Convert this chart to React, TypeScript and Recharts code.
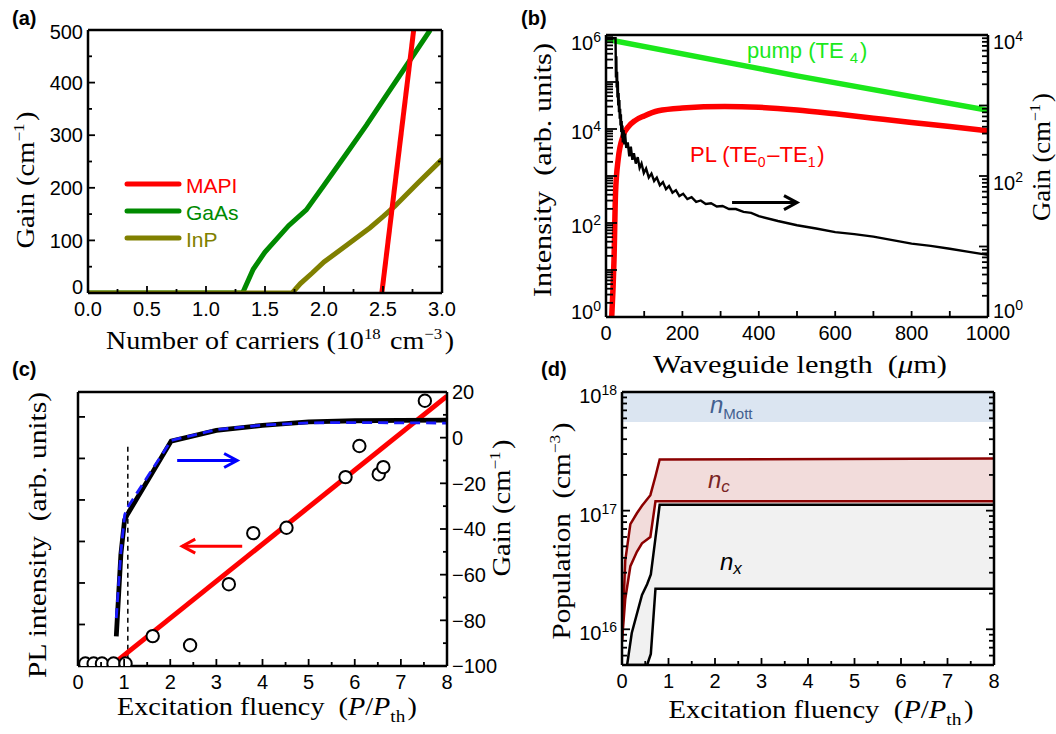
import React from "react";
import { ComposedChart, Line, Area, Scatter, XAxis, YAxis, ReferenceArea } from "recharts";

const SANS = "'Liberation Sans', Arial, Helvetica, sans-serif";
const SERIF = "'Liberation Serif', 'Times New Roman', serif";

// ---- (a) gain vs carrier density ----
const mapiN = [2.49, 2.76];
const mapiG = [0, 500];
const gaasN = [0, 1.31, 1.4, 1.5, 1.7, 1.85, 2.0, 2.2, 2.36, 2.5, 2.7, 2.9];
const gaasG = [0, 0, 45, 78, 128, 158, 205, 268, 319, 366, 433, 500];
const inpN = [0, 1.73, 1.8, 1.9, 2.0, 2.2, 2.39, 2.5, 2.6, 2.8, 3.0];
const inpG = [0, 0, 18, 38, 59, 92, 124, 145, 165, 210, 254];
const materials = [
  { name: "MAPI", color: "#ff0000" },
  { name: "GaAs", color: "#008a00" },
  { name: "InP", color: "#808000" },
];
const carrierTicks = [0, 0.5, 1, 1.5, 2, 2.5, 3];
const carrierMinor = [0.25, 0.75, 1.25, 1.75, 2.25, 2.75];
const gainTicksA = [0, 100, 200, 300, 400, 500];
const gainMinorA = [50, 150, 250, 350, 450];

// ---- (b) intensities and gain along the waveguide ----
const pumpL = [0, 500, 1000];
const pumpI = [8.1e5, 1.35e5, 2.5e4];
const plL = [15, 21, 25, 32, 45, 60, 76, 100, 137, 200, 311, 400, 500, 600, 700, 800, 900, 1000];
const plI = [1, 17, 450, 2300, 7200, 11500, 15100, 19000, 24500, 28000, 30000, 29000, 25500, 21000, 17000, 13800, 11300, 9100];
const gainL = [0, 25, 26, 27, 28, 29, 30, 31, 32, 33, 34, 35, 36, 37, 38, 39, 40, 41, 42, 43, 44, 46, 48, 50, 53, 57, 61, 65, 69, 73, 78, 83, 88, 93, 99, 105, 112, 119, 126, 133, 141, 149, 157, 165, 174, 183, 192, 202, 213, 224, 236, 248, 261, 275, 290, 305, 322, 340, 360, 380, 400, 450, 500, 550, 600, 650, 700, 750, 800, 850, 900, 950, 1000];
const gainB = [9000, 9000, 2500, 5000, 1800, 3000, 1300, 2200, 1000, 1500, 800, 1200, 650, 900, 520, 750, 420, 600, 350, 520, 300, 450, 280, 400, 250, 300, 190, 260, 170, 210, 150, 185, 130, 150, 110, 128, 95, 108, 85, 95, 74, 82, 65, 72, 58, 63, 52, 56, 47, 50, 43, 45, 40, 41, 37, 37.5, 34, 34, 31, 30, 27, 23, 20, 18, 16, 15, 13.8, 12.3, 11, 10.2, 9.3, 8.4, 7.6];
const arrowBL = [330, 500];
const arrowBG = [42, 42];
const lengthTicks = [0, 200, 400, 600, 800, 1000];
const lengthMinor = [100, 300, 500, 700, 900];

// ---- (c) PL intensity and gain vs excitation ----
const dotF = [0.16, 0.34, 0.52, 0.77, 1.03, 1.62, 2.43, 3.27, 3.8, 4.52, 5.8, 6.1, 6.52, 6.62, 7.52];
const dotI = [0.06, 0.06, 0.06, 0.06, 0.06, 0.72, 0.5, 1.97, 3.2, 3.33, 4.55, 5.3, 4.62, 4.79, 6.39];
const fitF = [0.82, 8];
const fitI = [0.1, 6.5];
const gainF = [0.83, 0.93, 1.01, 1.06, 2.02, 3, 4, 5, 6, 7, 8];
const gainCalc = [-87, -51, -36, -34, -1.5, 3.2, 5.4, 6.9, 7.4, 7.6, 7.7];
const gainFit = [-79, -50, -34, -31, -1.2, 3.5, 5.5, 6.5, 6.6, 6.5, 6.4];
const thrF = [1.08, 1.08];
const thrG = [-4, -100];
const arrowBlueF = [2.15, 3.45];
const arrowBlueG = [-10, -10];
const arrowRedF = [3.56, 2.26];
const arrowRedG = [-47.5, -47.5];
const fluenceTicks = [0, 1, 2, 3, 4, 5, 6, 7, 8];
const fluenceMinor = [0.5, 1.5, 2.5, 3.5, 4.5, 5.5, 6.5, 7.5];
const plTicks = [1, 2, 3, 4, 5, 6];
const gainTicksC = [-100, -80, -60, -40, -20, 0, 20];
const gainMinorC = [-90, -70, -50, -30, -10, 10];

// ---- (d) carrier populations ----
const mottLow = 5.6e17;
const mottHigh = 1e18;
const ncF = [0, 0.07, 0.18, 0.32, 0.43, 0.61, 0.72, 0.81, 8];
const ncLo = [7.9e15, 1.8e16, 3.4e16, 4.5e16, 5.3e16, 6e16, 1.2e17, 1.2e17, 1.2e17];
const ncHi = [7.9e15, 3.8e16, 7.7e16, 9.5e16, 1.1e17, 1.35e17, 1.95e17, 2.7e17, 2.75e17];
const nxF = [0.11, 0.21, 0.43, 0.54, 0.62, 0.72, 0.81, 8];
const nxLo = [5e15, 5e15, 5e15, 5e15, 6.2e15, 2.2e16, 2.2e16, 2.2e16];
const nxHi = [5e15, 9.3e15, 1.95e16, 2.4e16, 2.9e16, 5.9e16, 1.12e17, 1.12e17];

const rows = (xs: number[], ys: number[]) => xs.map((x, i) => ({ x, y: ys[i] }));
const band = (xs: number[], lo: number[], hi: number[]) => xs.map((x, i) => ({ x, v: [lo[i], hi[i]] }));
const same = (a: number, b: number) => Math.abs(a - b) <= 1e-6 * Math.max(1e-9, Math.abs(a), Math.abs(b));
const has = (list: number[], v: number) => list.some((t) => same(t, v));

function logTicks(lo: number, hi: number) {
  const out: number[] = [];
  for (let e = Math.floor(Math.log10(lo)); e <= Math.ceil(Math.log10(hi)); e++) {
    for (let m = 1; m < 10; m++) {
      const v = m * Math.pow(10, e);
      if (v >= lo * 0.999 && v <= hi * 1.001) out.push(v);
    }
  }
  return out;
}
const decades = (lo: number, hi: number) => logTicks(lo, hi).filter((v) => same(Math.pow(10, Math.round(Math.log10(v))), v));

const pow10 = (v: number) => (
  <>
    10<tspan dy={-8} fontSize={14}>{Math.round(Math.log10(v))}</tspan>
  </>
);
const signed = (v: number) => (v < 0 ? "\u2212" + Math.abs(v) : String(v));

type Side = "left" | "right" | "top" | "bottom";
type TickOpts = {
  side: Side;
  long: number[];
  label?: (v: number) => React.ReactNode;
  shift?: (v: number) => number;
  len?: number;
  short?: number;
  gap?: number;
};

// inward tick marks, labels outside the frame
function makeTick(o: TickOpts) {
  const len = o.len ?? 7;
  const short = o.short ?? 4;
  return (p: any) => {
    const v = p.payload.value as number;
    const L = has(o.long, v) ? len : short;
    const lab = o.label ? o.label(v) : null;
    const dy = o.shift ? o.shift(v) : 0;
    const { x, y } = p;
    let seg: number[] = [x, y, x, y];
    let txt: React.ReactNode = null;
    const tp = { fontFamily: SANS, fontSize: 20, fill: "#000" };
    if (o.side === "left") {
      seg = [x, y, x + L, y];
      if (lab != null) txt = <text {...tp} x={x - (o.gap ?? 5)} y={y + dy} dy="0.36em" textAnchor="end">{lab}</text>;
    } else if (o.side === "right") {
      seg = [x, y, x - L, y];
      if (lab != null) txt = <text {...tp} x={x + (o.gap ?? 5)} y={y + dy} dy="0.36em" textAnchor="start">{lab}</text>;
    } else if (o.side === "bottom") {
      seg = [x, y, x, y - L];
      if (lab != null) txt = <text {...tp} x={x} y={y + (o.gap ?? 22)} textAnchor="middle">{lab}</text>;
    } else {
      seg = [x, y, x, y + L];
    }
    return (
      <g>
        <line x1={seg[0]} y1={seg[1]} x2={seg[2]} y2={seg[3]} stroke="#000" strokeWidth={1.8} />
        {txt}
      </g>
    );
  };
}

const frame = { stroke: "#000", strokeWidth: 2.5 };
const axisBase = { type: "number" as const, allowDataOverflow: true, interval: 0 as const, tickLine: false, tickSize: 0, tickMargin: 0, axisLine: frame };
const sorted = (...a: number[][]) => ([] as number[]).concat(...a).sort((p, q) => p - q);

// chevron drawn at the last point of an arrow series
const arrowHead = (color: string, dir: 1 | -1, n: number) => (p: any) => {
  if (p.index !== n - 1) return <g key={p.index} />;
  const { cx, cy } = p;
  return (
    <path key={p.index} d={`M${cx - dir * 13},${cy - 7} L${cx},${cy} L${cx - dir * 13},${cy + 7}`} fill="none" stroke={color} strokeWidth={3} />
  );
};

function PanelA() {
  const data = [rows(mapiN, mapiG), rows(gaasN, gaasG), rows(inpN, inpG)];
  const order = [1, 2, 0];
  return (
    <ComposedChart width={530} height={360} margin={{ top: 25, right: 78, bottom: 37, left: 38 }}>
      <XAxis {...axisBase} xAxisId="b" dataKey="x" domain={[0, 3]} height={30} ticks={sorted(carrierTicks, carrierMinor)}
        tick={makeTick({ side: "bottom", long: carrierTicks, gap: 23, label: (v) => (has(carrierTicks, v) ? v.toFixed(1) : null) })} />
      <XAxis {...axisBase} xAxisId="t" orientation="top" domain={[0, 3]} height={5} ticks={sorted(carrierTicks, carrierMinor)}
        tick={makeTick({ side: "top", long: carrierTicks })} />
      <YAxis {...axisBase} yAxisId="l" dataKey="y" domain={[0, 500]} width={50} ticks={sorted(gainTicksA, gainMinorA)}
        tick={makeTick({ side: "left", long: gainTicksA, shift: (v) => (v === 0 ? -6 : v === 500 ? 2 : 0), label: (v) => (has(gainTicksA, v) ? String(v) : null) })} />
      <YAxis {...axisBase} yAxisId="r" orientation="right" domain={[0, 500]} width={10} ticks={sorted(gainTicksA, gainMinorA)}
        tick={makeTick({ side: "right", long: gainTicksA })} />
      {order.map((i) => (
        <Line key={materials[i].name} name={materials[i].name} xAxisId="b" yAxisId="l" data={data[i]} dataKey="y" type="linear"
          stroke={materials[i].color} strokeWidth={5} dot={false} activeDot={false} isAnimationActive={false} />
      ))}
    </ComposedChart>
  );
}

function PanelB() {
  const iTicks = logTicks(1, 1e6);
  const gTicks = logTicks(1, 1e4);
  return (
    <ComposedChart width={526} height={360} margin={{ top: 34, right: 18, bottom: 13, left: 16 }}>
      <XAxis {...axisBase} xAxisId="b" dataKey="x" domain={[0, 1000]} height={30} ticks={sorted(lengthTicks, lengthMinor)}
        tick={makeTick({ side: "bottom", long: lengthTicks, len: 6, short: 6, gap: 23, label: (v) => (has(lengthTicks, v) ? String(v) : null) })} />
      <XAxis {...axisBase} xAxisId="t" orientation="top" domain={[0, 1000]} height={1} tick={false} />
      <YAxis {...axisBase} yAxisId="l" dataKey="y" scale="log" domain={[1, 1e6]} width={60} ticks={iTicks}
        tick={makeTick({ side: "left", long: decades(1, 1e6), len: 11, short: 7, shift: (v) => (v === 1 ? -5 : v === 1e6 ? 8 : 3),
          label: (v) => (has([1, 1e2, 1e4, 1e6], v) ? pow10(v) : null) })} />
      <YAxis {...axisBase} yAxisId="r" orientation="right" dataKey="y" scale="log" domain={[1, 1e4]} width={50} ticks={gTicks}
        tick={makeTick({ side: "right", long: decades(1, 1e4), len: 9, short: 6, shift: (v) => (v === 1 ? -6 : 7),
          label: (v) => (has([1, 1e2, 1e4], v) ? pow10(v) : null) })} />
      <Line xAxisId="b" yAxisId="l" data={rows(pumpL, pumpI)} dataKey="y" type="linear" stroke="#1be81b" strokeWidth={5.5}
        dot={false} activeDot={false} isAnimationActive={false} />
      <Line xAxisId="b" yAxisId="l" data={rows(plL, plI)} dataKey="y" type="monotone" stroke="#ff0000" strokeWidth={5.5}
        dot={false} activeDot={false} isAnimationActive={false} />
      <Line xAxisId="b" yAxisId="r" data={rows(gainL, gainB)} dataKey="y" type="linear" stroke="#000" strokeWidth={2.4}
        dot={false} activeDot={false} isAnimationActive={false} />
      <Line xAxisId="b" yAxisId="r" data={rows(arrowBL, arrowBG)} dataKey="y" type="linear" stroke="#000" strokeWidth={3}
        dot={arrowHead("#000", 1, 2)} activeDot={false} isAnimationActive={false} />
    </ComposedChart>
  );
}

function PanelC() {
  return (
    <ComposedChart width={530} height={374} margin={{ top: 27, right: 33, bottom: 38, left: 38 }}>
      <XAxis {...axisBase} xAxisId="b" dataKey="x" domain={[0, 8]} height={30} ticks={sorted(fluenceTicks, fluenceMinor)}
        tick={makeTick({ side: "bottom", long: fluenceTicks, label: (v) => (has(fluenceTicks, v) ? String(v) : null), gap: 23 })} />
      <XAxis {...axisBase} xAxisId="t" orientation="top" domain={[0, 8]} height={5} ticks={sorted(fluenceTicks, fluenceMinor)}
        tick={makeTick({ side: "top", long: fluenceTicks })} />
      <YAxis {...axisBase} yAxisId="l" dataKey="y" domain={[0, 6.6]} width={40} ticks={plTicks}
        tick={makeTick({ side: "left", long: plTicks })} />
      <YAxis {...axisBase} yAxisId="r" orientation="right" dataKey="y" domain={[-100, 20]} width={50} ticks={sorted(gainTicksC, gainMinorC)}
        tick={makeTick({ side: "right", long: gainTicksC, label: (v) => (has(gainTicksC, v) ? signed(v) : null) })} />
      <Line xAxisId="b" yAxisId="r" data={rows(thrF, thrG)} dataKey="y" type="linear" stroke="#000" strokeWidth={1.5}
        strokeDasharray="5 4" dot={false} activeDot={false} isAnimationActive={false} />
      <Line xAxisId="b" yAxisId="l" data={rows(fitF, fitI)} dataKey="y" type="linear" stroke="#ff0000" strokeWidth={5}
        dot={false} activeDot={false} isAnimationActive={false} />
      <Scatter xAxisId="b" yAxisId="l" data={rows(dotF, dotI)} dataKey="y" isAnimationActive={false}
        shape={(p: any) => <circle cx={p.cx} cy={p.cy} r={6.2} fill="#fff" stroke="#000" strokeWidth={2} />} />
      <Line xAxisId="b" yAxisId="r" data={rows(gainF, gainCalc)} dataKey="y" type="linear" stroke="#000" strokeWidth={4.8}
        dot={false} activeDot={false} isAnimationActive={false} />
      <Line xAxisId="b" yAxisId="r" data={rows(gainF, gainFit)} dataKey="y" type="linear" stroke="#1a1aff" strokeWidth={2.8}
        strokeDasharray="10 6" dot={false} activeDot={false} isAnimationActive={false} />
      <Line xAxisId="b" yAxisId="r" data={rows(arrowBlueF, arrowBlueG)} dataKey="y" type="linear" stroke="#0000ff" strokeWidth={3}
        dot={arrowHead("#0000ff", 1, 2)} activeDot={false} isAnimationActive={false} />
      <Line xAxisId="b" yAxisId="r" data={rows(arrowRedF, arrowRedG)} dataKey="y" type="linear" stroke="#ff0000" strokeWidth={3}
        dot={arrowHead("#ff0000", -1, 2)} activeDot={false} isAnimationActive={false} />
    </ComposedChart>
  );
}

function PanelD() {
  const pTicks = logTicks(5e15, 1e18);
  return (
    <ComposedChart width={526} height={374} margin={{ top: 31, right: 57, bottom: 39, left: 32 }}>
      <XAxis {...axisBase} xAxisId="b" dataKey="x" domain={[0, 8]} height={30} ticks={sorted(fluenceTicks, fluenceMinor)}
        tick={makeTick({ side: "bottom", long: fluenceTicks, label: (v) => (has(fluenceTicks, v) ? String(v) : null), gap: 23 })} />
      <XAxis {...axisBase} xAxisId="t" orientation="top" domain={[0, 8]} height={1} tick={false} />
      <YAxis {...axisBase} yAxisId="l" dataKey="v" scale="log" domain={[5e15, 1e18]} width={60} ticks={pTicks}
        tick={makeTick({ side: "left", long: decades(5e15, 1e18), len: 8, short: 5, shift: () => 4,
          label: (v) => (has(decades(5e15, 1e18), v) ? pow10(v) : null) })} />
      <YAxis {...axisBase} yAxisId="r" orientation="right" scale="log" domain={[5e15, 1e18]} width={5} ticks={pTicks}
        tick={makeTick({ side: "right", long: decades(5e15, 1e18), len: 8, short: 5 })} />
      <ReferenceArea xAxisId="b" yAxisId="l" x1={0} x2={8} y1={mottLow} y2={mottHigh} fill="#dbe5f1" fillOpacity={1} stroke="none" ifOverflow="hidden" />
      <Area xAxisId="b" yAxisId="l" data={band(ncF, ncLo, ncHi)} dataKey="v" type="linear" fill="#f2dcdb" fillOpacity={1}
        stroke="#8b0000" strokeWidth={2.5} dot={false} activeDot={false} isAnimationActive={false} />
      <Area xAxisId="b" yAxisId="l" data={band(nxF, nxLo, nxHi)} dataKey="v" type="linear" fill="#f1f1f1" fillOpacity={1}
        stroke="#000" strokeWidth={2.5} dot={false} activeDot={false} isAnimationActive={false} />
    </ComposedChart>
  );
}

const sup = (s: string, size = 15, up = 10) => (
  <>
    <tspan dy={-up} fontSize={size}>{s}</tspan>
    <tspan dy={up}>{"\u200a"}</tspan>
  </>
);
const sub = (s: string, size = 14, down = 6, italic = false) => (
  <>
    <tspan dy={down} fontSize={size} fontStyle={italic ? "italic" : "normal"}>{s}</tspan>
    <tspan dy={-down}>{"\u200a"}</tspan>
  </>
);

function Annotations() {
  const ser = { fontFamily: SERIF, fontSize: 25, fill: "#000", lengthAdjust: "spacingAndGlyphs" as const };
  const vt = (x: number, y: number) => ({ transform: `translate(${x},${y}) rotate(-90)`, textAnchor: "middle" as const, dy: "0.35em" });
  const fluency = (
    <>
      Excitation fluency{"\u2002"}(<tspan fontStyle="italic">P</tspan>/<tspan fontStyle="italic">P</tspan>{sub("th", 17, 7)})
    </>
  );
  return (
    <svg width={1056} height={734} style={{ position: "absolute", left: 0, top: 0, pointerEvents: "none" }}>
      <g fontFamily={SANS} fontWeight="bold" fontSize={20}>
        <text x={12} y={25}>(a)</text>
        <text x={521} y={25}>(b)</text>
        <text x={12} y={376}>(c)</text>
        <text x={541} y={376}>(d)</text>
      </g>

      {/* (a) */}
      <text {...ser} {...vt(25, 180)} textLength={137}>Gain (cm{sup("\u22121")})</text>
      <text {...ser} x={280} y={349} textAnchor="middle" textLength={348}>Number of carriers (10{sup("18")} cm{sup("\u22123")})</text>
      {materials.map((m, i) => (
        <g key={m.name}>
          <line x1={127} x2={179} y1={184 + i * 27} y2={184 + i * 27} stroke={m.color} strokeWidth={5} strokeLinecap="round" />
          <text x={186} y={193 + i * 27} fontFamily={SANS} fontSize={21} fill={m.color}>{m.name}</text>
        </g>
      ))}

      {/* (b) */}
      <text {...ser} {...vt(542, 170)} textLength={254}>Intensity{"\u2002"}(arb. units)</text>
      <text {...ser} {...vt(1041, 157)} textLength={128}>Gain (cm{sup("\u22121")})</text>
      <text {...ser} x={800} y={373} textAnchor="middle" textLength={294}>
        Waveguide length{"\u2002"}(<tspan fontStyle="italic">{"\u03bc"}</tspan>m)
      </text>
      <text x={747} y={58} fontFamily={SANS} fontSize={22} fill="#1be81b">pump (TE {sub("4", 15, 5)})</text>
      <text x={690} y={162} fontFamily={SANS} fontSize={22} fill="#ff0000">
        PL (TE{sub("0", 14, 5)}{"\u2013"}TE{sub("1", 14, 5)})
      </text>

      {/* (c) */}
      <text {...ser} {...vt(37, 535)} textLength={286}>PL intensity{"\u2002"}(arb. units)</text>
      <text {...ser} {...vt(501, 508)} textLength={137}>Gain (cm{sup("\u22121")})</text>
      <text {...ser} x={267} y={715} textAnchor="middle" textLength={300}>{fluency}</text>

      {/* (d) */}
      <text {...ser} {...vt(561, 531)} textLength={217}>Population{"\u2002"}(cm{sup("\u22123")})</text>
      <text {...ser} x={821} y={718} textAnchor="middle" textLength={305}>{fluency}</text>
      <text x={710} y={413} fontFamily={SANS} fontSize={24} fill="#43608f">
        <tspan fontStyle="italic">n</tspan>{sub("Mott", 15, 6)}
      </text>
      <text x={708} y={488} fontFamily={SANS} fontSize={24} fill="#7a2424">
        <tspan fontStyle="italic">n</tspan>{sub("c", 17, 4, true)}
      </text>
      <text x={720} y={570} fontFamily={SANS} fontSize={24} fill="#000">
        <tspan fontStyle="italic">n</tspan>{sub("x", 17, 4, true)}
      </text>
    </svg>
  );
}

export default function App() {
  return (
    <div style={{ position: "relative", width: 1056, height: 734, background: "#fff", overflow: "hidden" }}>
      <style>{"body{margin:0}"}</style>
      <div style={{ position: "absolute", left: 0, top: 0 }}><PanelA /></div>
      <div style={{ position: "absolute", left: 530, top: 0 }}><PanelB /></div>
      <div style={{ position: "absolute", left: 0, top: 360 }}><PanelC /></div>
      <div style={{ position: "absolute", left: 530, top: 360 }}><PanelD /></div>
      <Annotations />
    </div>
  );
}
